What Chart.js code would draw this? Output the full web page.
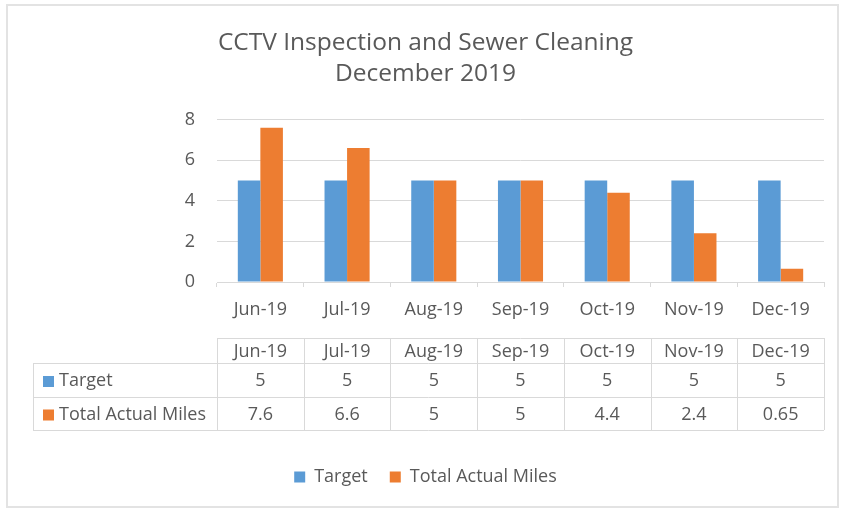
<!DOCTYPE html>
<html>
<head>
<meta charset="utf-8">
<script src="https://cdn.jsdelivr.net/npm/chart.js@4.4.0/dist/chart.umd.min.js"></script>
<style>
  html, body { margin: 0; padding: 0; background: #fff; }
  #wrap { position: relative; width: 846px; height: 511px; }
</style>
</head>
<body>
<div id="wrap"><canvas id="cctvChart" width="846" height="511"></canvas></div>
<script>
// chart data
const months = ["Jun-19", "Jul-19", "Aug-19", "Sep-19", "Oct-19", "Nov-19", "Dec-19"];
const target = [5, 5, 5, 5, 5, 5, 5];
const actualMiles = [7.6, 6.6, 5, 5, 4.4, 2.4, 0.65];
const yTicks = [0, 2, 4, 6, 8];
const seriesNames = ["Target", "Total Actual Miles"];
const titleLines = ["CCTV Inspection and Sewer Cleaning", "December 2019"];

const FONT = "'Open Sans', 'Noto Sans', sans-serif";
const TEXT = "#595959";
const LINE = "#d9d9d9";

// light frame round the whole chart
const frame = {
  id: "frame",
  beforeDraw(chart) {
    const ctx = chart.ctx;
    ctx.save();
    ctx.fillStyle = "#fff";
    ctx.fillRect(0, 0, chart.width, chart.height);
    ctx.strokeStyle = "#e3e3e3";
    ctx.lineWidth = 2;
    ctx.strokeRect(7, 5, 831, 502);
    ctx.restore();
  }
};

// excel style data table under the x axis
const dataTable = {
  id: "dataTable",
  afterDraw(chart) {
    const { ctx, chartArea } = chart;
    const x = chart.scales.x;
    const colW = (chartArea.right - chartArea.left) / months.length;
    const tableLeft = 33;
    const headTop = chartArea.bottom + 56;
    const rowTops = [headTop + 25, headTop + 59];
    const tableBottom = headTop + 92;
    const rows = [target, actualMiles];
    const colors = chart.data.datasets.map(d => d.backgroundColor);

    ctx.save();
    ctx.strokeStyle = LINE;
    ctx.lineWidth = 1;
    ctx.beginPath();
    // header row (only over data columns)
    ctx.moveTo(chartArea.left, Math.round(headTop) + 0.5);
    ctx.lineTo(chartArea.right, Math.round(headTop) + 0.5);
    // body rows
    [rowTops[0], rowTops[1], tableBottom].forEach(y => {
      ctx.moveTo(tableLeft, Math.round(y) + 0.5);
      ctx.lineTo(chartArea.right, Math.round(y) + 0.5);
    });
    ctx.moveTo(tableLeft + 0.5, rowTops[0]);
    ctx.lineTo(tableLeft + 0.5, tableBottom);
    for (let i = 0; i <= months.length; i++) {
      const cx = Math.round(chartArea.left + i * colW) + 0.5;
      ctx.moveTo(cx, headTop);
      ctx.lineTo(cx, tableBottom);
    }
    ctx.stroke();

    ctx.font = "18px " + FONT;
    ctx.fillStyle = TEXT;
    ctx.textAlign = "center";
    ctx.textBaseline = "middle";
    months.forEach((m, i) => {
      const cx = x.getPixelForValue(i);
      ctx.fillText(m, cx, (headTop + rowTops[0]) / 2 + 1);
      ctx.fillText(String(rows[0][i]), cx, (rowTops[0] + rowTops[1]) / 2 + 1);
      ctx.fillText(String(rows[1][i]), cx, (rowTops[1] + tableBottom) / 2 + 1);
    });

    // series labels with key squares
    ctx.textAlign = "left";
    const bottoms = [rowTops[1], tableBottom];
    seriesNames.forEach((name, r) => {
      const cy = (rowTops[r] + bottoms[r]) / 2 + 1;
      ctx.fillStyle = colors[r];
      ctx.fillRect(tableLeft + 10, cy - 5, 11, 11);
      ctx.fillStyle = TEXT;
      ctx.fillText(name, tableLeft + 26, cy);
    });
    ctx.restore();
  }
};

new Chart(document.getElementById("cctvChart"), {
  type: "bar",
  data: {
    labels: months,
    datasets: [
      {
        label: seriesNames[0],
        data: target,
        backgroundColor: "#5b9bd5",
        borderWidth: 0
      },
      {
        label: seriesNames[1],
        data: actualMiles,
        backgroundColor: "#ed7d31",
        borderWidth: 0
      }
    ]
  },
  options: {
    responsive: false,
    animation: false,
    categoryPercentage: 0.52,
    barPercentage: 1,
    layout: { padding: { top: 8, left: 27, right: 22, bottom: 15 } },
    plugins: {
      title: {
        display: true,
        text: titleLines,
        color: TEXT,
        font: { family: FONT, size: 24.5, weight: "normal", lineHeight: 1.28 },
        padding: { top: 19, bottom: 30 }
      },
      legend: {
        position: "bottom",
        labels: {
          color: TEXT,
          font: { family: FONT, size: 18 },
          boxWidth: 11,
          boxHeight: 11,
          padding: 22
        }
      },
      tooltip: { enabled: false }
    },
    scales: {
      x: {
        grid: {
          offset: true,
          drawOnChartArea: false,
          tickLength: 5,
          color: LINE
        },
        border: { color: LINE },
        ticks: { color: TEXT, font: { family: FONT, size: 18 }, padding: 12 },
        afterFit(scale) { scale.height = 164; }
      },
      y: {
        min: yTicks[0],
        max: yTicks[yTicks.length - 1],
        ticks: {
          stepSize: yTicks[1] - yTicks[0],
          color: TEXT,
          font: { family: FONT, size: 18 },
          padding: 22
        },
        grid: { color: LINE, drawTicks: false },
        border: { display: false },
        afterFit(scale) { scale.width = 190; }
      }
    }
  },
  plugins: [frame, dataTable]
});
</script>
</body>
</html>
